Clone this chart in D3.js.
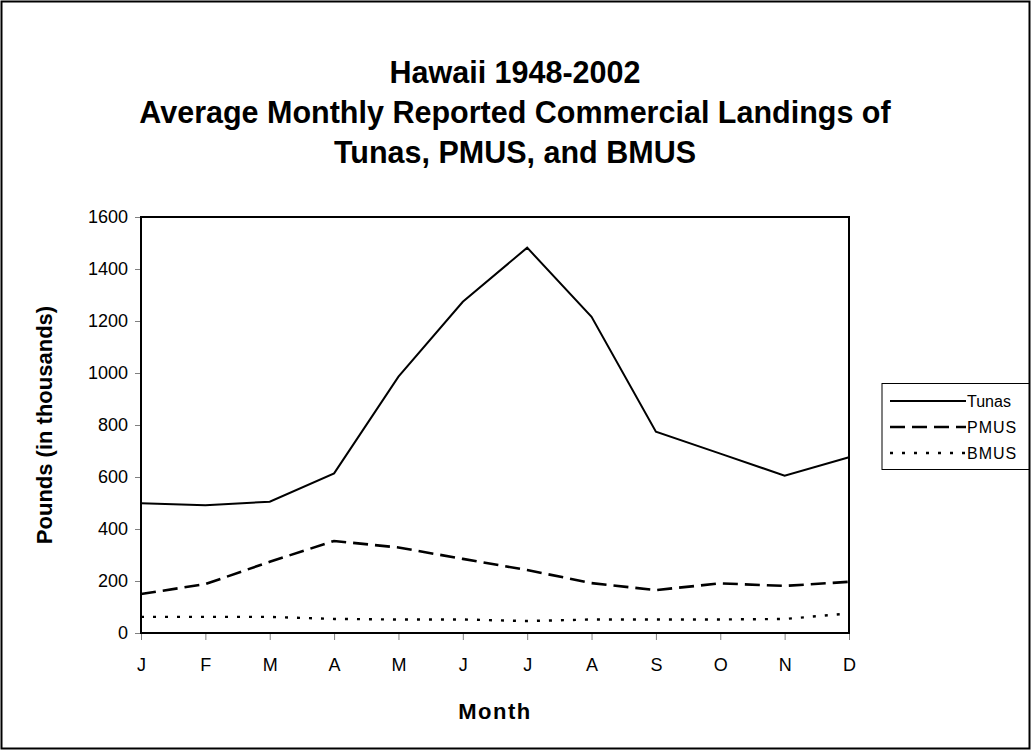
<!DOCTYPE html>
<html><head><meta charset="utf-8">
<script src="https://cdn.jsdelivr.net/npm/d3@7"></script>
<style>body{margin:0;background:#fff}svg{display:block}text{font-family:Arial,"Liberation Sans",sans-serif}</style>
</head><body>
<script>
const months = ["J","F","M","A","M","J","J","A","S","O","N","D"];
const tunas = [499, 491, 505, 614, 986, 1274, 1482, 1216, 774, 690, 605, 676];
const pmus  = [150, 188, 274, 354, 329, 285, 242, 192, 165, 191, 181, 197];
const bmus  = [62, 62, 62, 54, 52, 52, 46, 52, 52, 52, 54, 75];
const yTicks = [0,200,400,600,800,1000,1200,1400,1600];
const titleLines = ["Hawaii 1948-2002","Average Monthly Reported Commercial Landings of","Tunas, PMUS, and BMUS"];
const seriesNames = ["Tunas","PMUS","BMUS"];

const W=1031,H=750;
const svg=d3.select("body").append("svg").attr("width",W).attr("height",H);
svg.append("rect").attr("x",1.5).attr("y",1.5).attr("width",W-3).attr("height",H-3).attr("fill","#fff").attr("stroke","#000").attr("stroke-width",2);

const L=141,R=849,T=217,B=633;
const x=d3.scalePoint().domain(d3.range(12)).range([L,R]);
const y=d3.scaleLinear().domain([0,1600]).range([B,T]);

// title
svg.append("g").selectAll("text").data(titleLines).join("text")
  .attr("x",515).attr("y",(d,i)=>83+i*40).attr("text-anchor","middle")
  .attr("font-size",30.5).attr("font-weight","bold").text(d=>d);

// axes
const ya=svg.append("g").attr("transform",`translate(${L},0)`)
  .call(d3.axisLeft(y).tickValues(yTicks).tickSize(6).tickPadding(7).tickFormat(d3.format("d")));
ya.select(".domain").remove();
ya.selectAll("line").attr("stroke","#808080");
ya.selectAll("text").attr("font-size",18).attr("fill","#000").attr("font-family","Arial");
const xa=svg.append("g").attr("transform",`translate(0,${B})`)
  .call(d3.axisBottom(x).tickSize(7).tickPadding(18).tickFormat(i=>months[i]));
xa.select(".domain").remove();
xa.selectAll("line").attr("stroke","#808080");
xa.selectAll("text").attr("font-size",18).attr("fill","#000").attr("font-family","Arial");

svg.append("rect").attr("x",L).attr("y",T).attr("width",R-L).attr("height",B-T)
  .attr("fill","none").attr("stroke","#000").attr("stroke-width",2);

// axis titles
svg.append("text").attr("transform",`translate(52,${(T+B)/2}) rotate(-90)`).attr("text-anchor","middle")
  .attr("font-size",22).attr("font-weight","bold").text("Pounds (in thousands)");
svg.append("text").attr("x",495).attr("y",719).attr("text-anchor","middle")
  .attr("font-size",22).attr("font-weight","bold").attr("letter-spacing",1.5).text("Month");

// lines
const styles=[{dash:null,w:2},{dash:"15,7",w:2.6},{dash:"3,9",w:2.4}];
const data=[tunas,pmus,bmus];
const line=d3.line().x((d,i)=>x(i)).y(d=>y(d));
data.forEach((s,k)=>{
  svg.append("path").datum(s).attr("d",line).attr("fill","none").attr("stroke","#000")
    .attr("stroke-width",styles[k].w).attr("stroke-dasharray",styles[k].dash);
});

// legend
const lg=svg.append("g");
lg.append("rect").attr("x",882).attr("y",383.5).attr("width",147).attr("height",86)
  .attr("fill","#fff").attr("stroke","#000").attr("stroke-width",1);
seriesNames.forEach((n,k)=>{
  const yy=401+k*26;
  lg.append("line").attr("x1",890).attr("x2",966).attr("y1",yy).attr("y2",yy).attr("stroke","#000")
    .attr("stroke-width",styles[k].w).attr("stroke-dasharray",styles[k].dash);
  lg.append("text").attr("x",967).attr("y",yy+5.5).attr("font-size",16).attr("letter-spacing",k>0?1:0).text(n);
});
</script>
</body></html>
